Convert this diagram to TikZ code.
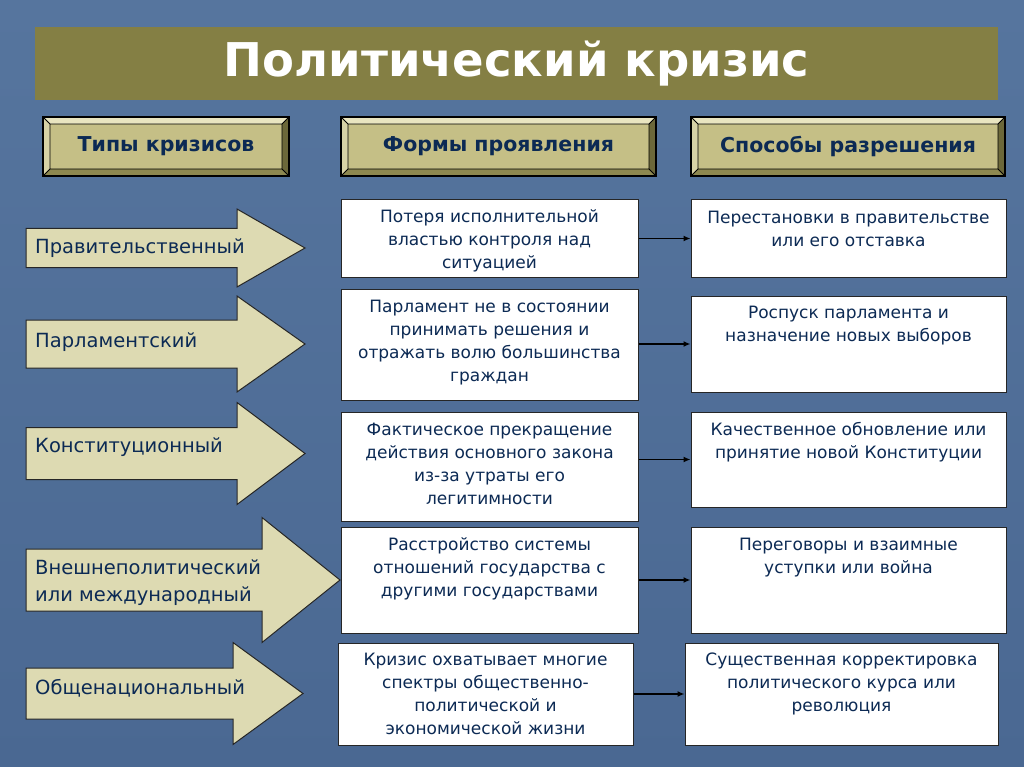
\documentclass[tikz,border=0pt]{standalone}
\usepackage{fontspec}
\setmainfont{DejaVu Sans}
\usetikzlibrary{arrows.meta,positioning}

\definecolor{slide}{RGB}{74,104,146}
\definecolor{slidetop}{RGB}{86,117,158}
\definecolor{titlebar}{RGB}{132,127,68}
\definecolor{hdrface}{RGB}{197,191,134}
\definecolor{bevtop}{RGB}{233,229,192}
\definecolor{bevleft}{RGB}{215,210,166}
\definecolor{bevright}{RGB}{108,104,58}
\definecolor{bevbottom}{RGB}{141,136,80}
\definecolor{arrowfill}{RGB}{221,218,178}
\definecolor{navy}{RGB}{12,42,84}

\tikzset{
  hdrbox/.style={draw=black, line width=1.2pt, fill=hdrface, minimum height=59pt,
    inner sep=0pt, text=navy, font=\bfseries\fontsize{20.5}{24}\selectfont,
    path picture={
      \coordinate (bxa) at (path picture bounding box.north west);
      \coordinate (bxb) at (path picture bounding box.north east);
      \coordinate (bxc) at (path picture bounding box.south east);
      \coordinate (bxd) at (path picture bounding box.south west);
      \coordinate (bxai) at ([shift={(7pt,-7pt)}]bxa);
      \coordinate (bxbi) at ([shift={(-7pt,-7pt)}]bxb);
      \coordinate (bxci) at ([shift={(-7pt,7pt)}]bxc);
      \coordinate (bxdi) at ([shift={(7pt,7pt)}]bxd);
      \fill[bevtop] (bxa) -- (bxb) -- (bxbi) -- (bxai) -- cycle;
      \fill[bevleft] (bxa) -- (bxai) -- (bxdi) -- (bxd) -- cycle;
      \fill[bevright] (bxb) -- (bxc) -- (bxci) -- (bxbi) -- cycle;
      \fill[bevbottom] (bxd) -- (bxdi) -- (bxci) -- (bxc) -- cycle;
      \fill[hdrface] (bxai) rectangle (bxci);
      \draw[line width=0.8pt] (bxai) rectangle (bxci)
        (bxa) -- (bxai) (bxb) -- (bxbi) (bxc) -- (bxci) (bxd) -- (bxdi);
    }},
  typearrow/.style={draw=black!85, line width=1pt, fill=arrowfill, line join=miter},
  typetext/.style={text=navy, align=left, inner sep=0pt, anchor=west,
    font=\fontsize{19.5}{27}\selectfont},
  formbox/.style={draw=black!85, line width=1pt, fill=white, inner sep=0pt},
  formtext/.style={text=navy, align=center, inner sep=0pt,
    font=\fontsize{17}{23}\selectfont},
  link/.style={line width=1.5pt, -{Latex[length=7pt,width=6pt]}}
}

\begin{document}
\begin{tikzpicture}[x=1pt,y=-1pt]
  \useasboundingbox (0,0) rectangle (1024,767);
  \shade[top color=slidetop, bottom color=slide] (0,0) rectangle (1024,767);

  % title
  \node[fill=titlebar, minimum width=963pt, minimum height=73pt, inner sep=0pt,
    text=white, font=\bfseries\fontsize{46.5}{50}\selectfont] (title) at (516.5,63.5)
    {\raisebox{-3pt}{Политический кризис}};

  % column heads
  \node[hdrbox, minimum width=246pt] (h1) at (166,146.5) {Типы кризисов};
  \node[hdrbox, minimum width=315pt] (h2) at (498.5,146.5) {Формы проявления};
  \node[hdrbox, minimum width=314pt] (h3) at (848,146.5) {Способы разрешения};

  % types of crises
  \foreach \n/\hx/\tx/\ym/\bh/\hh in {1/237/305/248/19.5/39, 2/237/305/344/24/48,
      3/237/305/453.5/26/51, 4/262/340/580/31/62.5, 5/233/303/693.5/25.5/51}
    \draw[typearrow] (26,\ym-\bh) -- (\hx,\ym-\bh) -- (\hx,\ym-\hh) -- (\tx,\ym)
      -- (\hx,\ym+\hh) -- (\hx,\ym+\bh) -- (26,\ym+\bh) -- cycle;
  \node[typetext] (k1) at (35,248) {Правительственный};
  \node[typetext] (k2) at (35,342) {Парламентский};
  \node[typetext] (k3) at (35,447) {Конституционный};
  \node[typetext] (k4) at (35,583) {Внешнеполитический\\или международный};
  \node[typetext] (k5) at (35,688) {Общенациональный};

  % forms
  \node[formbox, minimum width=297pt, minimum height=77pt] (f1) at (489.5,238.5) {};
  \node[formbox, minimum width=297pt, minimum height=111pt] (f2) at (489.5,344.5) {};
  \node[formbox, minimum width=297pt, minimum height=109pt] (f3) at (489.5,466.5) {};
  \node[formbox, minimum width=297pt, minimum height=106pt] (f4) at (489.5,580) {};
  \node[formbox, minimum width=295pt, minimum height=102pt] (f5) at (485.5,694) {};
  \node[formtext, below=10pt of f1.north] (f1t)
    {Потеря исполнительной\\властью контроля над\\ситуацией};
  \node[formtext, below=11pt of f2.north] (f2t)
    {Парламент не в состоянии\\принимать решения и\\отражать волю большинства\\граждан};
  \node[formtext, below=11pt of f3.north] (f3t)
    {Фактическое прекращение\\действия основного закона\\из-за утраты его\\легитимности};
  \node[formtext, below=11pt of f4.north] (f4t)
    {Расстройство системы\\отношений государства с\\другими государствами};
  \node[formtext, below=10pt of f5.north] (f5t)
    {Кризис охватывает многие\\спектры общественно-\\политической и\\экономической жизни};

  % solutions
  \node[formbox, minimum width=315pt, minimum height=77pt] (s1) at (848.5,238.5) {};
  \node[formbox, minimum width=315pt, minimum height=96pt] (s2) at (848.5,344) {};
  \node[formbox, minimum width=315pt, minimum height=95pt] (s3) at (848.5,459.5) {};
  \node[formbox, minimum width=315pt, minimum height=106pt] (s4) at (848.5,580) {};
  \node[formbox, minimum width=313pt, minimum height=102pt] (s5) at (841.5,694) {};
  \node[formtext, below=11pt of s1.north] (s1t)
    {Перестановки в правительстве\\или его отставка};
  \node[formtext, below=10pt of s2.north] (s2t)
    {Роспуск парламента и\\назначение новых выборов};
  \node[formtext, below=11pt of s3.north] (s3t)
    {Качественное обновление или\\принятие новой Конституции};
  \node[formtext, below=11pt of s4.north] (s4t)
    {Переговоры и взаимные\\уступки или война};
  \node[formtext, below=10pt of s5.north] (s5t)
    {Существенная корректировка\\политического курса или\\революция};

  \foreach \i in {1,...,5}
    \draw[link] (f\i.east |- s\i.west) -- (s\i.west);
\end{tikzpicture}
\end{document}
